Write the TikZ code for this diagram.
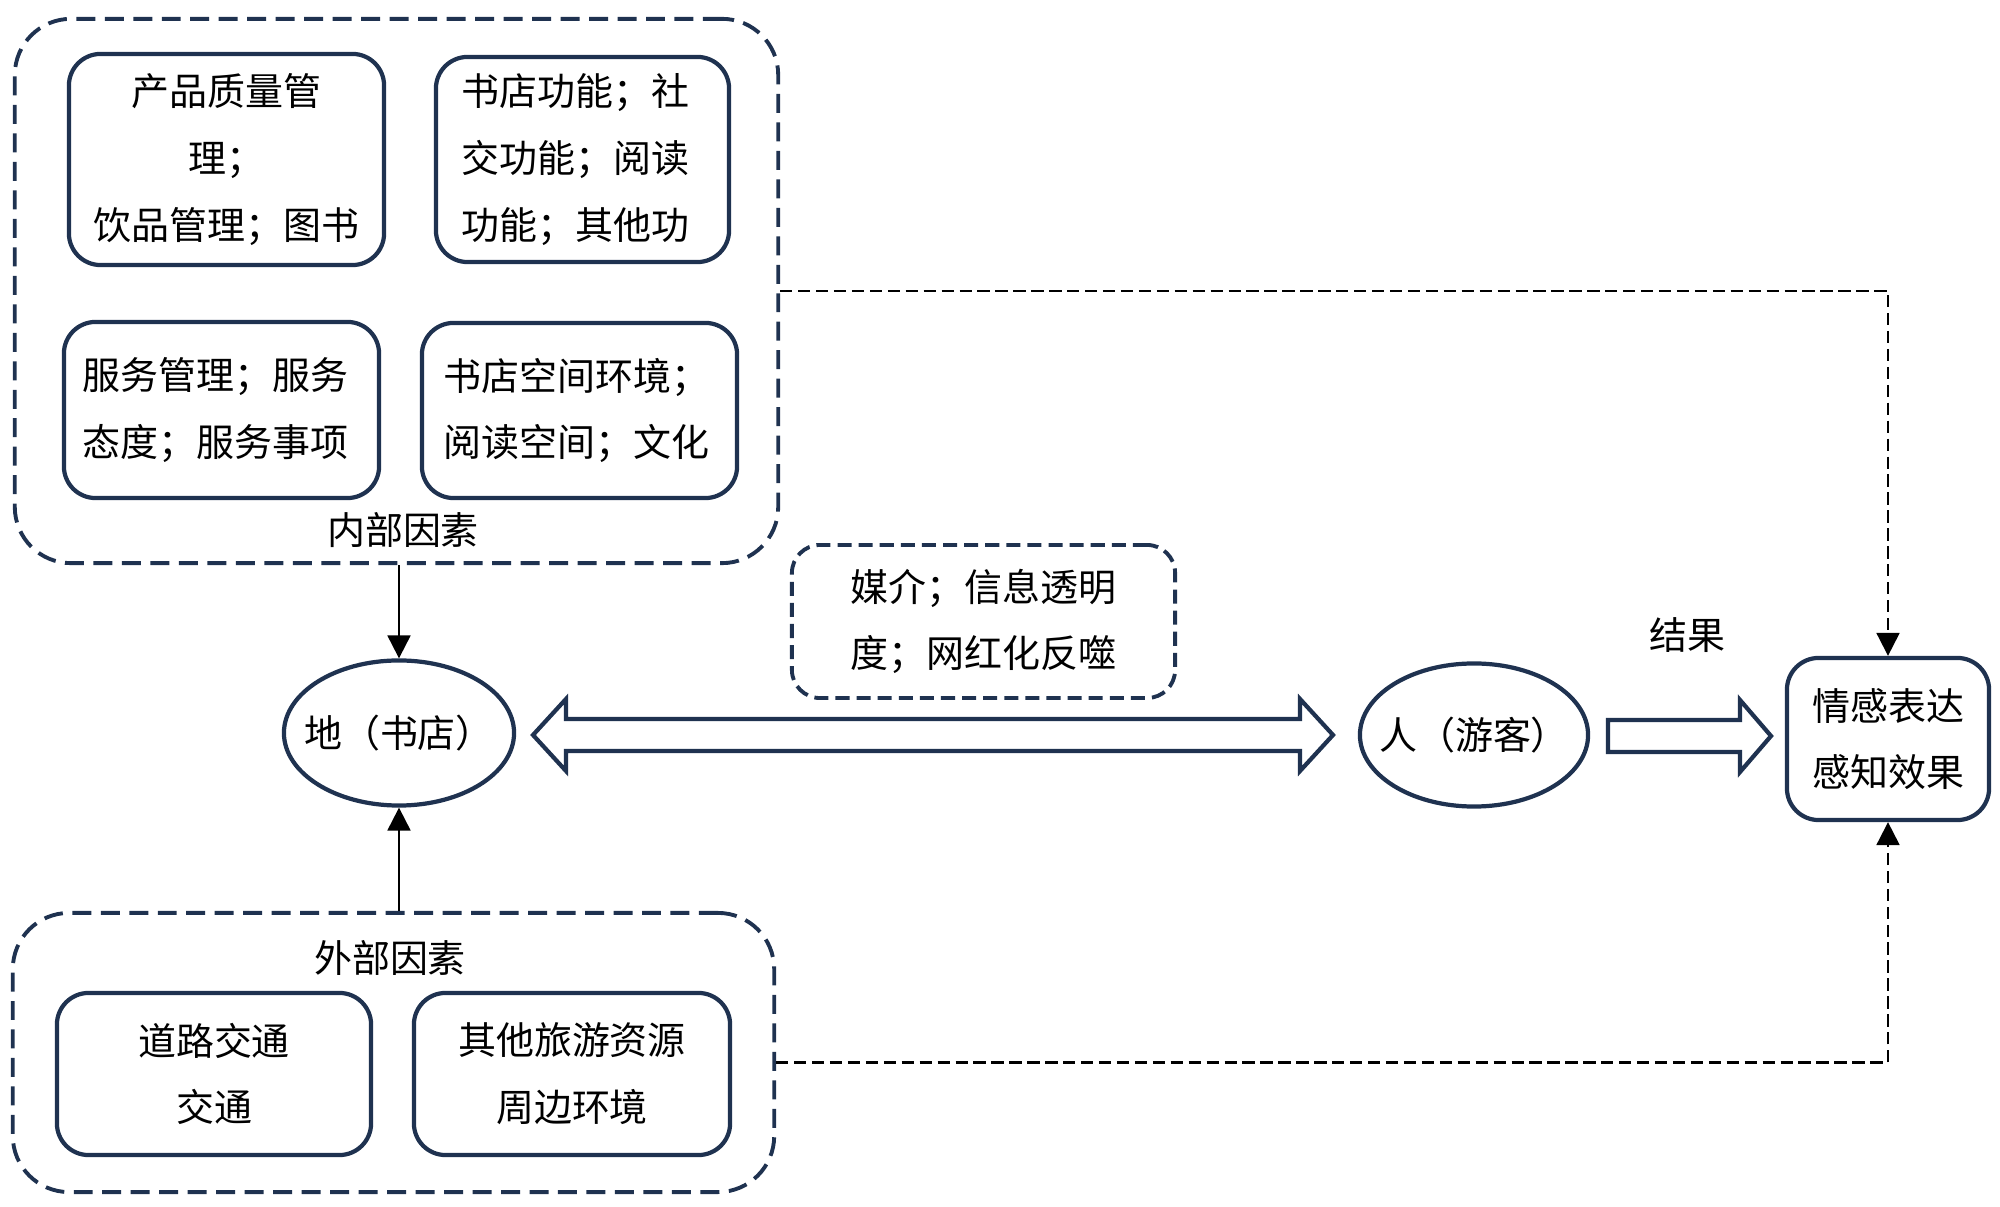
\documentclass[tikz,border=0pt]{standalone}
\usepackage{fontspec}
\newfontfamily\cjk{Noto Sans CJK SC}
\usetikzlibrary{arrows.meta,calc,shapes.geometric}
\definecolor{navy}{HTML}{1F3250}
\begin{document}
\begin{tikzpicture}[x=0.01cm,y=-0.01cm,
  txt/.style={font=\cjk\fontsize{10.8pt}{19pt}\selectfont, text=black},
  ibox/.style={txt, draw=navy, line width=1.2pt, rounded corners=9pt, inner sep=0pt},
  gbox/.style={draw=navy, line width=1.1pt, dash pattern=on 5.4pt off 2.7pt, rounded corners=16pt, inner sep=0pt},
  mbox/.style={txt, draw=navy, line width=1.1pt, dash pattern=on 4pt off 2pt, rounded corners=8pt, inner sep=0pt, align=center},
  ell/.style={txt, draw=navy, line width=1.2pt, ellipse, inner xsep=-0.2cm, inner ysep=0pt},
  link/.style={-{Triangle[width=6.5pt,length=6.5pt]}, line width=0.6pt, black},
  dlink/.style={link, dash pattern=on 3.5pt off 1.6pt},
  hollow/.style={draw=navy, line width=1.2pt, fill=white, line join=miter}
]
\useasboundingbox (0,0) rectangle (2000,1207);

% group boxes
\node[gbox, minimum width=7.63cm, minimum height=5.44cm] (inner) at (396.5,291) {};
\node[gbox, minimum width=7.61cm, minimum height=2.79cm] (outer) at (393.5,1052.5) {};
\node[txt] (innerlbl) at (403,530) {内部因素};
\node[txt] (outerlbl) at (390,958) {外部因素};

% inner factor boxes
\node[ibox, align=center, minimum width=3.15cm, minimum height=2.11cm] (b1) at (226.5,159.5)
  {产品质量管\\理；\\饮品管理；图书};
\node[ibox, align=left, inner xsep=0.26cm, text width=2.41cm, minimum height=2.05cm] (b2) at (582.5,159.5)
  {书店功能；社\\交功能；阅读\\功能；其他功};
\node[ibox, align=left, inner xsep=0.19cm, text width=2.77cm, minimum height=1.76cm] (b3) at (221.5,410)
  {服务管理；服务\\态度；服务事项\\[0.5cm]};
\node[ibox, align=left, inner xsep=0.22cm, text width=2.71cm, minimum height=1.75cm] (b4) at (579.5,410.5)
  {书店空间环境；\\阅读空间；文化\\[0.5cm]};

% outer factor boxes
\node[ibox, align=center, minimum width=3.14cm, minimum height=1.62cm] (b5) at (214,1074)
  {道路交通\\交通};
\node[ibox, align=center, minimum width=3.16cm, minimum height=1.62cm] (b6) at (572,1074)
  {其他旅游资源\\周边环境};

% ellipses
\node[ell, minimum width=2.30cm, minimum height=1.45cm] (di) at (399,733) {地（书店）};
\node[ell, minimum width=2.28cm, minimum height=1.43cm] (ren) at (1474,735) {人（游客）};

% media box
\node[mbox, minimum width=3.83cm, minimum height=1.53cm] (media) at (983.5,621.5)
  {媒介；信息透明\\度；网红化反噬};

% result box
\node[ibox, align=center, minimum width=2.02cm, minimum height=1.62cm] (res) at (1888,739)
  {情感表达\\感知效果};
\node[txt] (reslbl) at (1687,635) {结果};

% hollow block arrows
\draw[hollow] (533,735) -- (566,699) -- (566,719) -- (1300,719) -- (1300,699) -- (1333,735)
  -- (1300,771) -- (1300,751) -- (566,751) -- (566,771) -- cycle;
\draw[hollow] (1608,720) -- (1740,720) -- (1740,700) -- (1771,736) -- (1740,772) -- (1740,752)
  -- (1608,752) -- cycle;

% connectors
\draw[link] (di.north |- inner.south) -- (di.north);
\draw[link] (di.south |- outer.north) -- (di.south);
\draw[dlink] (inner.east) -| (res.north);
\draw[dlink] ($(outer.east)+(0,10)$) -| (res.south);
\end{tikzpicture}
\end{document}
